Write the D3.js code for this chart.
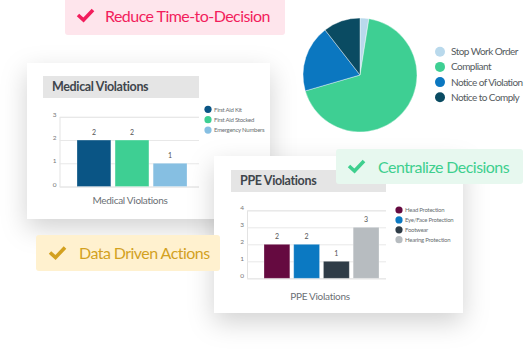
<!DOCTYPE html>
<html><head><meta charset="utf-8">
<script src="https://cdn.jsdelivr.net/npm/d3@7"></script>
<style>
html,body{margin:0;padding:0;background:#fff;}
svg{display:block;font-family:Lato,"Open Sans",sans-serif;}
</style></head>
<body>
<svg id="c" width="525" height="363"></svg>
<script>
// ---- data ----
const pieLabels = ["Stop Work Order", "Compliant", "Notice of Violation", "Notice to Comply"];
const pieValues = [2.5, 68, 19, 10.5];
const pieColors = ["#b9d9ec", "#3ecf93", "#0b77c0", "#0a4b62"];

const medTitle = "Medical Violations";
const medCategories = ["First Aid Kit", "First Aid Stocked", "Emergency Numbers"];
const medValues = [2, 2, 1];
const medColors = ["#0a5585", "#3ecf93", "#86bfe2"];
const medTicks = [0, 1, 2, 3];

const ppeTitle = "PPE Violations";
const ppeCategories = ["Head Protection", "Eye/Face Protection", "Footwear", "Hearing Protection"];
const ppeValues = [2, 2, 1, 3];
const ppeColors = ["#650a40", "#0b79c2", "#2f3c47", "#b7bcc0"];
const ppeTicks = [0, 1, 2, 3, 4];

const badges = [
  {text: "Reduce Time-to-Decision", bg: "#fee5ec", fg: "#f21d5c"},
  {text: "Centralize Decisions", bg: "#e7f8ef", fg: "#3ecf8e"},
  {text: "Data Driven Actions", bg: "#fff1cf", fg: "#d3a11f"}
];

const svg = d3.select("#c");
const defs = svg.append("defs");
const sh = defs.append("filter").attr("id","sh").attr("x","-40%").attr("y","-40%").attr("width","180%").attr("height","190%");
sh.append("feDropShadow").attr("dx",0).attr("dy",9).attr("stdDeviation",13).attr("flood-color","#000").attr("flood-opacity",0.18);

function check(g, x, y, color){
  g.append("path").attr("d", `M${x},${y+6} L${x+5.5},${y+11} L${x+15},${y+1}`)
    .attr("fill","none").attr("stroke",color).attr("stroke-width",3.6)
    .attr("stroke-linejoin","miter").attr("stroke-linecap","butt");
}
function badge(b, x, y, w, h, tx, cx){
  const g = svg.append("g");
  g.append("rect").attr("x",x).attr("y",y).attr("width",w).attr("height",h).attr("rx",3).attr("fill",b.bg);
  check(g, cx, y + h/2 - 6.5, b.fg);
  g.append("text").attr("x",tx).attr("y",y + h/2 + 6).attr("font-size",16).attr("letter-spacing",-0.55).attr("fill",b.fg).text(b.text);
}

// ---- pie ----
const pie = d3.pie().sort(null).value(d=>d)(pieValues);
const arc = d3.arc().innerRadius(0).outerRadius(57);
const pg = svg.append("g").attr("transform","translate(360,75)");
pg.selectAll("path").data(pie).join("path").attr("d",arc).attr("fill",(d,i)=>pieColors[i])
  .attr("stroke","#fff").attr("stroke-width",0.4);
const pl = svg.append("g").attr("transform","translate(440,51.7)");
pieLabels.forEach((l,i)=>{
  pl.append("circle").attr("cx",0).attr("cy",i*15.2).attr("r",5).attr("fill",pieColors[i]);
  pl.append("text").attr("x",11).attr("y",i*15.2+3.6).attr("font-size",10).attr("fill","#555b60").attr("letter-spacing",-0.55).text(l);
});

// ---- bar chart card ----
function barCard(o){
  svg.append("rect").attr("x",o.cx).attr("y",o.cy).attr("width",o.cw).attr("height",o.ch).attr("fill","#fff").attr("filter","url(#sh)");
  svg.append("rect").attr("x",o.bx).attr("y",o.by).attr("width",o.bw).attr("height",o.bh).attr("fill","#e5e5e5");
  svg.append("text").attr("x",o.bx+9).attr("y",o.by+o.bh/2+4.3).attr("font-size",12.5).attr("letter-spacing",-0.35).attr("font-weight","bold").attr("fill","#3f464c").text(o.title);
  const y = d3.scaleLinear().domain([0, d3.max(o.ticks)]).range([o.y0, o.y1]);
  const x = d3.scaleBand().domain(o.cats).range([o.xb0, o.xb1]).paddingInner(o.pad);
  const ax = svg.append("g").attr("transform",`translate(${o.ax},0)`)
    .call(d3.axisLeft(y).tickValues(o.ticks).tickFormat(d3.format("d")).tickSize(-(o.axr - o.ax)).tickPadding(3));
  ax.select(".domain").attr("stroke","#e3e3e3");
  ax.selectAll(".tick line").attr("stroke","#e8e8e8");
  ax.selectAll(".tick text").attr("font-size",6.5).attr("fill","#777").attr("dy","-0.05em").attr("font-family","Lato,sans-serif");
  const g = svg.append("g");
  g.selectAll("rect").data(o.vals).join("rect")
    .attr("x",(d,i)=>x(o.cats[i])).attr("width",x.bandwidth())
    .attr("y",d=>y(d)).attr("height",d=>y(0)-y(d)).attr("fill",(d,i)=>o.colors[i])
    .attr("stroke","#fff").attr("stroke-opacity",0.35).attr("stroke-width",0.8);
  g.selectAll("text").data(o.vals).join("text")
    .attr("x",(d,i)=>x(o.cats[i])+x.bandwidth()/2).attr("y",d=>y(d)-5.5)
    .attr("text-anchor","middle").attr("font-size",7).attr("fill","#555").text(d=>d);
  svg.append("text").attr("x",o.xtx).attr("y",o.xty).attr("text-anchor","middle").attr("font-size",10)
    .attr("fill","#6b7075").attr("letter-spacing",-0.3).text(o.title);
  const lg = svg.append("g").attr("transform",`translate(${o.lx},${o.ly})`);
  o.cats.forEach((c,i)=>{
    lg.append("circle").attr("cx",0).attr("cy",i*o.ls).attr("r",3.6).attr("fill",o.colors[i]);
    lg.append("text").attr("x",6).attr("y",i*o.ls+2.2).attr("font-size",6).attr("fill","#6a6f74").attr("letter-spacing",-0.25).text(c);
  });
}

barCard({cx:27, cy:63, cw:243, ch:156, bx:43, by:76, bw:156, bh:22, title:medTitle,
  cats:medCategories, vals:medValues, colors:medColors, ticks:medTicks,
  y0:186.5, y1:116.8, xb0:77, xb1:187, pad:0.11, ax:59.5, axr:199,
  xtx:130, xty:204, lx:208, ly:109.3, ls:10.4});

badge(badges[0], 65, -4, 220, 39, 105, 78);

barCard({cx:214, cy:156, cw:249, ch:157, bx:231, by:170, bw:155, bh:22, title:ppeTitle,
  cats:ppeCategories, vals:ppeValues, colors:ppeColors, ticks:ppeTicks,
  y0:278.3, y1:210.3, xb0:264, xb1:379, pad:0.13, ax:247, axr:386,
  xtx:320, xty:300, lx:399, ly:210, ls:9.9});

badge(badges[1], 336, 149, 187, 35, 378, 349);
badge(badges[2], 36, 235, 184, 36, 79, 50);
</script>
</body></html>
